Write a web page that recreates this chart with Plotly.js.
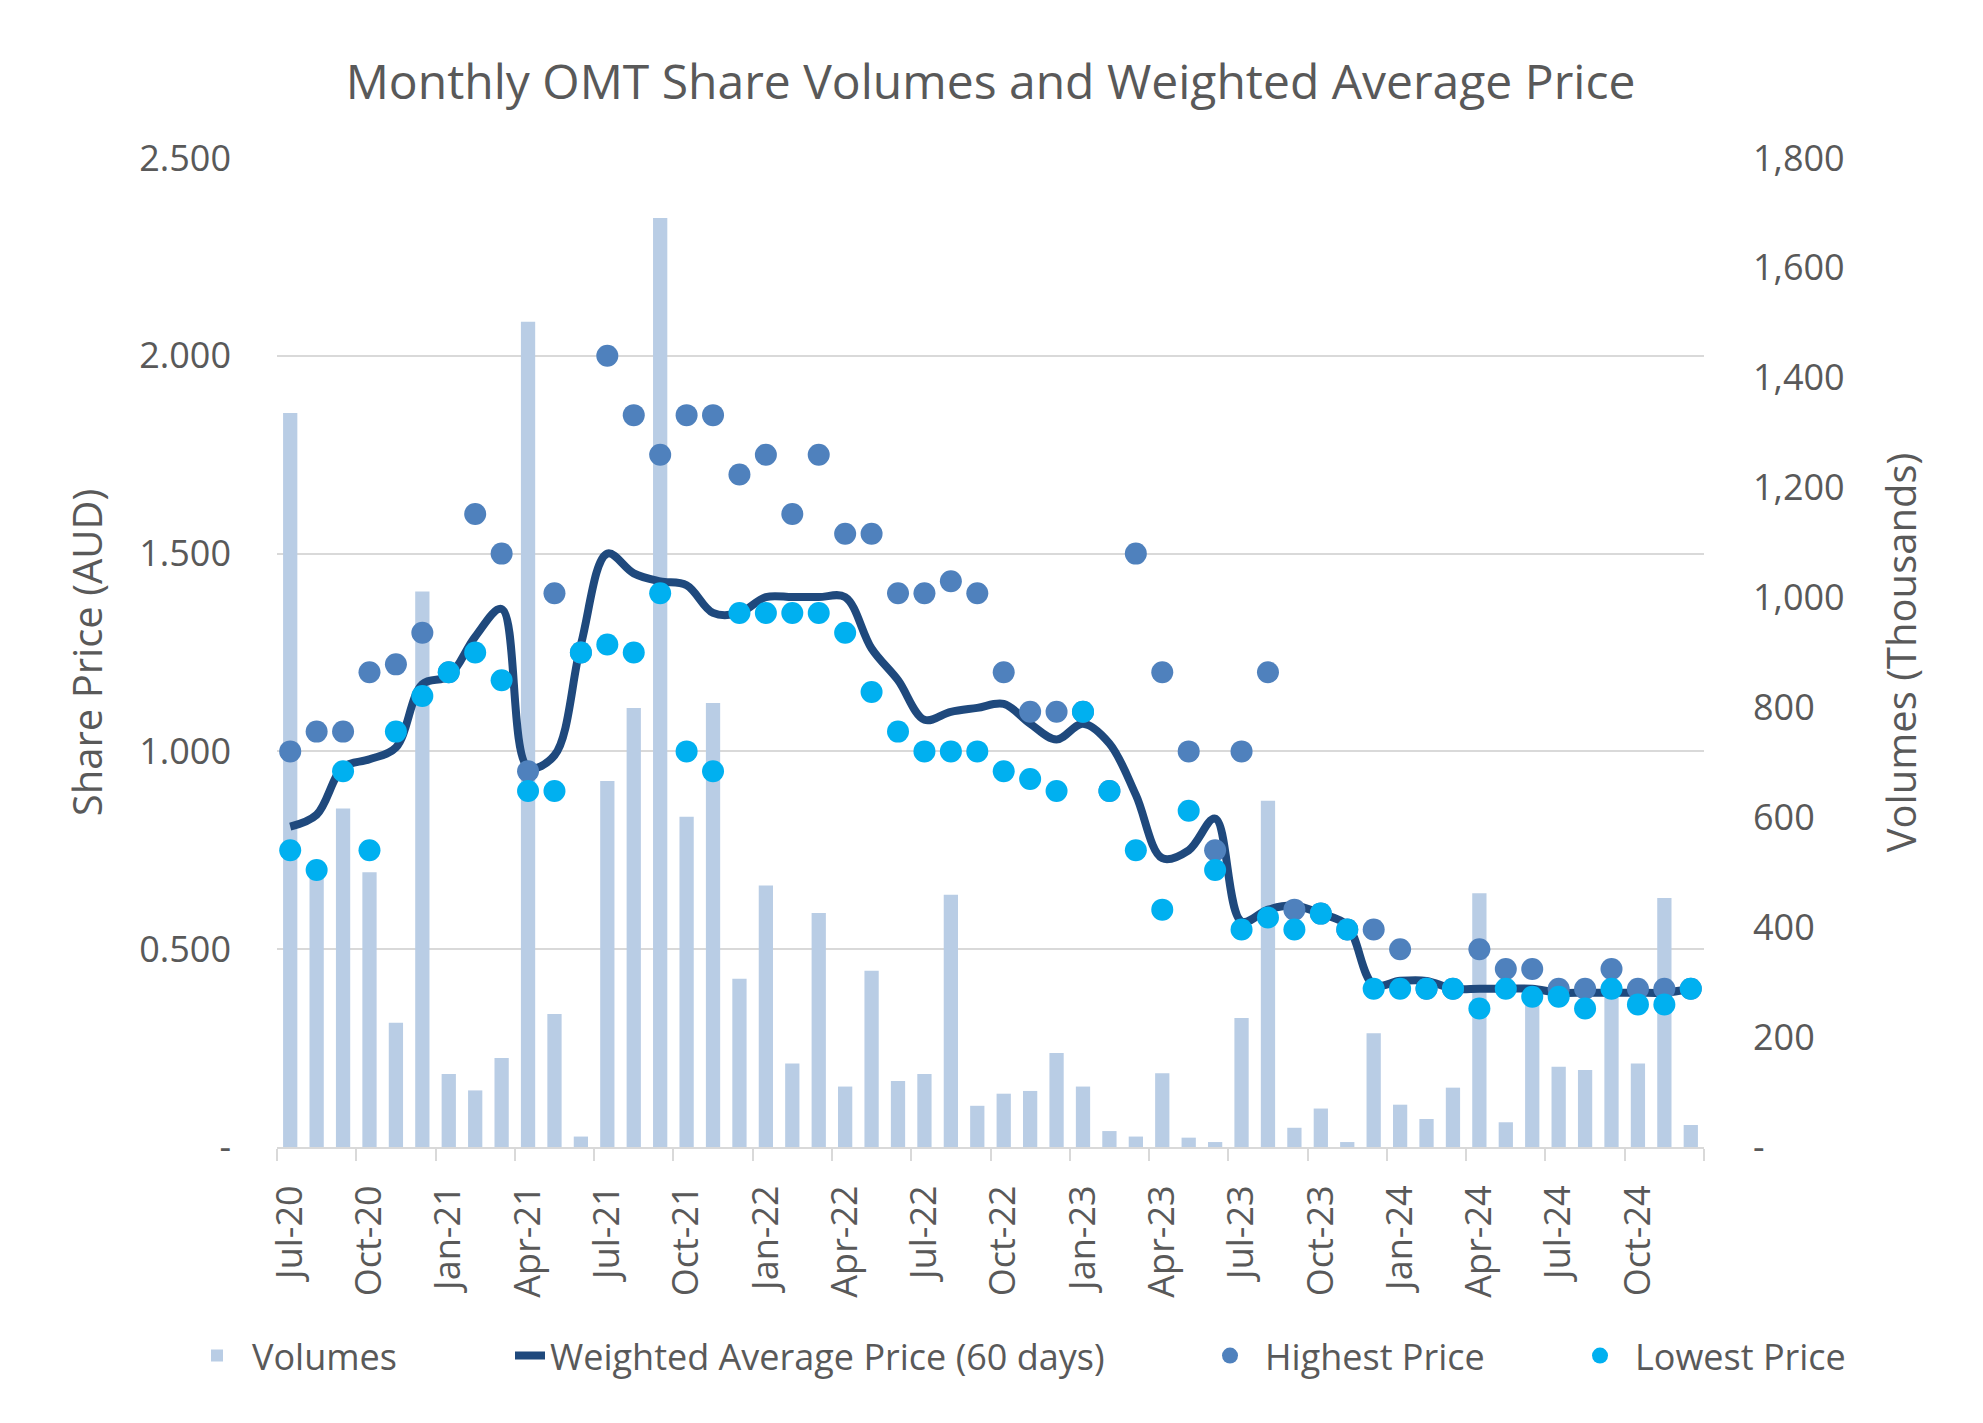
<!DOCTYPE html>
<html>
<head>
<meta charset="utf-8">
<script src="https://cdn.plot.ly/plotly-3.0.1.min.js"></script>
<style>html,body{margin:0;padding:0;background:#fff;}#chart{width:1983px;height:1423px;}</style>
</head>
<body>
<div id="chart"></div>
<script>
const months = ['Jul-20','Aug-20','Sep-20','Oct-20','Nov-20','Dec-20','Jan-21','Feb-21','Mar-21','Apr-21','May-21','Jun-21',
  'Jul-21','Aug-21','Sep-21','Oct-21','Nov-21','Dec-21','Jan-22','Feb-22','Mar-22','Apr-22','May-22','Jun-22',
  'Jul-22','Aug-22','Sep-22','Oct-22','Nov-22','Dec-22','Jan-23','Feb-23','Mar-23','Apr-23','May-23','Jun-23',
  'Jul-23','Aug-23','Sep-23','Oct-23','Nov-23','Dec-23','Jan-24','Feb-24','Mar-24','Apr-24','May-24','Jun-24',
  'Jul-24','Aug-24','Sep-24','Oct-24','Nov-24','Dec-24'];

// Volumes (thousands)
const volumes = [1336,500,616,500,226,1011,133,103,162,1502,242,19,
  666,799,1691,601,808,306,476,152,426,110,321,120,
  133,459,75,97,102,171,110,29,19,134,17,9,
  235,630,35,70,9,207,77,51,108,462,45,280,
  146,140,290,152,453,40];

// Weighted Average Price (60 days), AUD
const wap = [0.81,0.84,0.96,0.98,1.01,1.17,1.19,1.29,1.36,0.96,0.99,1.27,
  1.50,1.45,1.43,1.42,1.35,1.35,1.39,1.39,1.39,1.39,1.26,1.18,
  1.08,1.10,1.11,1.12,1.07,1.03,1.07,1.02,0.89,0.73,0.75,0.83,
  0.57,0.60,0.61,0.59,0.56,0.41,0.42,0.42,0.40,0.40,0.40,0.40,
  0.39,0.39,0.39,0.39,0.39,0.40];

// Highest Price, AUD
const highest = [1.00,1.05,1.05,1.20,1.22,1.30,1.20,1.60,1.50,0.95,1.40,1.25,
  2.00,1.85,1.75,1.85,1.85,1.70,1.75,1.60,1.75,1.55,1.55,1.40,
  1.40,1.43,1.40,1.20,1.10,1.10,1.10,0.90,1.50,1.20,1.00,0.75,
  1.00,1.20,0.60,0.59,0.55,0.55,0.50,0.40,0.40,0.50,0.45,0.45,
  0.40,0.40,0.45,0.40,0.40,0.40];

// Lowest Price, AUD
const lowest = [0.75,0.70,0.95,0.75,1.05,1.14,1.20,1.25,1.18,0.90,0.90,1.25,
  1.27,1.25,1.40,1.00,0.95,1.35,1.35,1.35,1.35,1.30,1.15,1.05,
  1.00,1.00,1.00,0.95,0.93,0.90,1.10,0.90,0.75,0.60,0.85,0.70,
  0.55,0.58,0.55,0.59,0.55,0.40,0.40,0.40,0.40,0.35,0.40,0.38,
  0.38,0.35,0.40,0.36,0.36,0.40];

const priceTicks = [0,0.5,1.0,1.5,2.0,2.5];
const priceTickText = ['-','0.500','1.000','1.500','2.000','2.500'];
const volTicks = [0,200,400,600,800,1000,1200,1400,1600,1800];
const volTickText = ['-','200','400','600','800','1,000','1,200','1,400','1,600','1,800'];

const idx = months.map((_, i) => i);
const labelIdx = idx.filter(i => i % 3 === 0);
const boundaryTicks = labelIdx.map(i => i - 0.5).concat([months.length - 0.5]);

const TXT = '#595959';
const FONT = 'Open Sans, Noto Sans, sans-serif';

const traces = [
  {type:'bar', x: idx, y: volumes, name:'Volumes', yaxis:'y', xaxis:'x',
   marker:{color:'#B9CDE5'}, legend:'legend'},
  {type:'scatter', mode:'lines', x: idx, y: wap, name:'Weighted Average Price (60 days)', yaxis:'y2',
   line:{color:'#1F497D', width:8, shape:'spline', smoothing:1}, legend:'legend2'},
  {type:'scatter', mode:'markers', x: idx, y: highest, name:'Highest Price', yaxis:'y2',
   marker:{color:'#4F81BD', size:22}, legend:'legend3'},
  {type:'scatter', mode:'markers', x: idx, y: lowest, name:'Lowest Price', yaxis:'y2',
   marker:{color:'#00B0F0', size:22}, legend:'legend4'}
];

const plotL = 277, plotR = 1704;
const px2paper = p => (p - plotL) / (plotR - plotL);
const legBase = {orientation:'h', yanchor:'middle', y:-0.211, xanchor:'left',
  bgcolor:'rgba(0,0,0,0)', font:{family:FONT, size:36, color:TXT}};

const layout = {
  width:1983, height:1423,
  margin:{l:277, r:279, t:158, b:276},
  paper_bgcolor:'#ffffff', plot_bgcolor:'#ffffff',
  font:{family:FONT, color:TXT},
  title:{text:'Monthly OMT Share Volumes and Weighted Average Price',
    font:{family:FONT, size:48, color:TXT},
    x:0.5, xref:'paper', xanchor:'center', y:1 - 82/1423, yref:'container', yanchor:'middle'},
  bargap:0.46,
  showlegend:true,
  xaxis:{range:[-0.5, months.length - 0.5], tickmode:'array', tickvals:labelIdx,
    ticktext:labelIdx.map(i => months[i]), tickangle:-90, ticks:'',
    tickfont:{family:FONT, size:36, color:TXT}, ticklabelstandoff:22,
    showgrid:false, zeroline:false, showline:true, linecolor:'#D9D9D9', linewidth:2,
    minor:{tickmode:'array', tickvals:boundaryTicks, ticks:'outside', ticklen:12,
      tickwidth:2, tickcolor:'#D9D9D9', showgrid:false}},
  yaxis:{range:[0,1800], side:'right', tickmode:'array', tickvals:volTicks, ticktext:volTickText,
    showgrid:false, zeroline:false, ticks:'', ticklabelstandoff:48,
    tickfont:{family:FONT, size:36, color:TXT},
    title:{text:'Volumes (Thousands)', font:{family:FONT, size:40, color:TXT}, standoff:44}},
  yaxis2:{overlaying:'y', side:'left', range:[0,2.5], tickmode:'array', tickvals:priceTicks,
    ticktext:priceTickText, showgrid:true, gridcolor:'#D9D9D9', gridwidth:2, zeroline:false,
    ticks:'', ticklabelstandoff:45, tickfont:{family:FONT, size:36, color:TXT},
    title:{text:'Share Price (AUD)', font:{family:FONT, size:40, color:TXT}, standoff:24}},
  legend:Object.assign({}, legBase, {x:px2paper(182), itemwidth:60}),
  legend2:Object.assign({}, legBase, {x:px2paper(510)}),
  legend3:Object.assign({}, legBase, {x:px2paper(1195), itemwidth:60}),
  legend4:Object.assign({}, legBase, {x:px2paper(1565), itemwidth:60})
};

Plotly.newPlot('chart', traces, layout, {staticPlot:true, displayModeBar:false});
</script>
</body>
</html>
